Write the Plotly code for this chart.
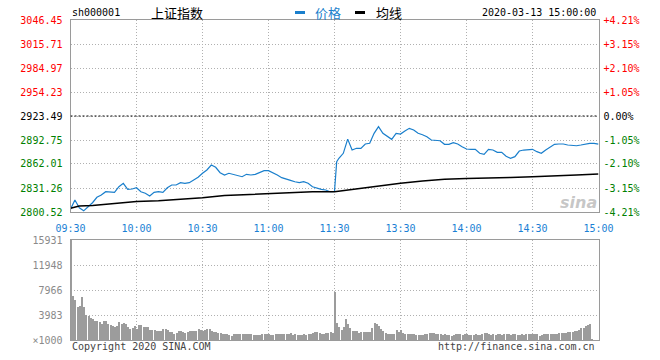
import plotly.graph_objects as go

W, H = 660, 360

# ---------------- data ----------------
symbol = "sh000001"
name = "上证指数"
stamp = "2020-03-13 15:00:00"
prev_close = 2923.49

time_labels = ["09:30", "10:00", "10:30", "11:00", "11:30", "13:30", "14:00", "14:30", "15:00"]
time_label_pos = [0, 30, 60, 90, 120, 150, 180, 210, 240]

price_ticks = [2800.52, 2831.26, 2862.01, 2892.75, 2923.49, 2954.23, 2984.97, 3015.71, 3046.45]
pct_labels = ["-4.21%", "-3.15%", "-2.10%", "-1.05%", "0.00%", "+1.05%", "+2.10%", "+3.15%", "+4.21%"]

price_minutes = list(range(0, 121, 2)) + [121] + list(range(122, 241, 2))
price_values = [
    2804.2, 2815.9, 2806.0, 2802.0, 2807.3, 2812.4, 2819.3, 2822.3, 2826.5, 2825.7,
    2825.7, 2832.9, 2837.3, 2829.6, 2830.0, 2831.6, 2826.5, 2824.5, 2821.0, 2825.7,
    2826.5, 2825.7, 2831.6, 2835.1, 2835.1, 2838.1, 2837.3, 2838.1, 2841.5, 2845.0,
    2850.1, 2854.3, 2860.7, 2857.8, 2850.9, 2847.9, 2850.1, 2848.8, 2846.6, 2845.7,
    2848.8, 2847.9, 2848.8, 2851.4, 2853.4, 2853.4, 2850.9, 2847.9, 2844.5, 2842.4,
    2841.1, 2839.3, 2838.1, 2839.3, 2837.3, 2832.9, 2830.9, 2829.6, 2828.7, 2826.5,
    2827.0,
    2864.9,
    2869.3, 2875.7, 2893.9, 2879.9, 2882.1, 2882.1, 2887.6, 2888.5, 2901.3, 2909.8,
    2901.3, 2897.9, 2893.6, 2901.3, 2900.4, 2904.3, 2907.7, 2905.5, 2901.3, 2899.5,
    2897.0, 2892.7, 2892.7, 2891.8, 2887.2, 2887.2, 2889.3, 2887.6, 2884.1, 2881.2,
    2880.8, 2880.8, 2875.7, 2874.4, 2880.8, 2879.9, 2877.0, 2877.0, 2871.9, 2869.3,
    2871.4, 2878.6, 2879.9, 2880.8, 2880.8, 2877.8, 2875.7, 2879.9, 2884.1, 2887.2,
    2887.6, 2887.6, 2886.3, 2885.4, 2885.4, 2886.3, 2887.6, 2888.5, 2888.5, 2887.4,
]

avg_minutes = [0, 4, 10, 20, 30, 40, 50, 60, 70, 80, 90, 100, 110, 120,
               130, 140, 150, 160, 170, 180, 190, 200, 210, 220, 230, 240]
avg_values = [2805.3, 2808.2, 2808.8, 2811.7, 2814.0, 2815.0, 2816.8, 2818.7, 2821.6, 2822.9,
              2824.2, 2825.5, 2826.4, 2826.5, 2830.0, 2834.2, 2837.3, 2840.2, 2842.4, 2843.4,
              2844.5, 2844.7, 2845.7, 2846.4, 2847.9, 2849.2]

vol_ticks = [0, 3983, 7966, 11948, 15931]
vol_labels = ["×1000", "3983", "7966", "11948", "15931"]
volume_minutes = list(range(241))
volumes = [
    15931,
    7009, 6372, 5204, 5416, 6850, 5204, 3983, 3823, 3452, 3345,
    3027, 3027, 2814, 2496, 3027, 3027, 2496, 2336, 2230, 2124,
    2230, 2867, 2549, 2655, 2549, 2071, 1805, 1858, 2177, 1752,
    2390, 2336, 2071, 2071, 2071, 1593, 1540, 1593, 1434, 1434, 1434,
    1699, 1699, 1540, 1274, 1274, 1009, 1062, 1434, 1434, 1328,
    1062, 1221, 1381, 1381, 1381, 1381, 1805, 1646, 1487, 1593,
    1752, 1699, 1434, 1328, 1221, 1062, 1115, 956, 903, 903,
    797, 637, 903, 956, 956, 956, 956, 956, 903, 903, 903,
    797, 797, 797, 797, 903, 903, 903, 1009, 850, 797,
    903, 956, 956, 956, 956, 956, 1009, 1115, 797, 903,
    850, 850, 850, 956, 850, 903, 1009, 1115, 1274, 1274,
    1168, 1009, 903, 1168, 1115, 1274, 1115,
    7700,
    2761, 2124, 1593, 2018, 3345, 2496, 1858, 1434, 1434, 1434,
    1168, 1274, 1328, 1328, 1328, 1328, 1965, 2655, 2496, 2177,
    1752, 1434, 1115, 1009, 1009, 1009,
    1009, 1646, 1328, 1593, 1168, 903, 1009, 956, 956, 956,
    797, 797, 797, 797, 903, 956, 1168, 1062, 1168, 1009,
    903, 903, 797, 903, 850, 850,
    690, 797, 903, 956, 1009, 797, 903, 1009, 850, 850,
    797, 903, 850, 850, 903, 1062, 1168, 956, 850, 903,
    850, 903, 956, 850, 956, 956,
    956, 850, 903, 956, 797, 743, 903, 797, 903, 903,
    956, 903, 903, 903, 690, 797, 903, 956, 956, 956, 956,
    1009, 1009, 1062, 1062, 1062, 1168, 1328, 1328, 1328, 1381,
    1434, 1593, 1858, 1965, 2177, 2336, 2549,
    106, 0, 0, 0,
]

# ---------------- styling ----------------
BLUE = "#1a7fcc"
RED = "#ff0000"
GREEN = "#008000"
FRAME = "#9a9a9a"
GRID = "#b0b0b0"
MONO = "DejaVu Sans Mono"
CJK = "Noto Sans CJK SC"


def px(x):
    return x / W


def py(y):
    return 1 - y / H


def colored(text, value):
    if abs(value - prev_close) < 0.01:
        c = "#000000"
    elif value > prev_close:
        c = RED
    else:
        c = GREEN
    return f'<span style="color:{c}">{text}</span>'


left_text = [colored(f"{v:.2f}", v) for v in price_ticks]
right_text = [colored(t, v) for t, v in zip(pct_labels, price_ticks)]

XD = [px(70.5), px(598.5)]

fig = go.Figure()
fig.add_trace(go.Bar(x=volume_minutes, y=volumes, width=0.38,
                     marker=dict(color="#9c9c9c", line=dict(width=0)),
                     xaxis="x2", yaxis="y3", hoverinfo="skip"))
fig.add_trace(go.Scatter(x=avg_minutes, y=avg_values, mode="lines",
                         line=dict(color="#000000", width=1.6),
                         xaxis="x", yaxis="y2", name="均线"))
fig.add_trace(go.Scatter(x=price_minutes, y=price_values, mode="lines",
                         line=dict(color=BLUE, width=1.2),
                         xaxis="x", yaxis="y", name="价格"))

fig.add_shape(type="line", xref="x", yref="y", x0=0, x1=240, y0=prev_close, y1=prev_close,
              line=dict(color="#000000", width=1, dash="2px,2px"), layer="above")

common_x = dict(range=[0, 240], showline=True, linecolor=FRAME, linewidth=1, mirror=True,
                showgrid=True, gridcolor=GRID, griddash="1px,2px", gridwidth=1,
                zeroline=False, ticks="", fixedrange=True, automargin=False)

fig.update_layout(
    width=W, height=H,
    margin=dict(l=0, r=0, t=0, b=0, autoexpand=False),
    paper_bgcolor="white", plot_bgcolor="white",
    showlegend=False,
    font=dict(family=MONO, size=10, color="#000"),
    xaxis=dict(domain=XD, anchor="y", tickvals=time_label_pos, ticktext=time_labels,
               tickfont=dict(family=MONO, size=10, color="#1a7fd4"), ticklabelstandoff=7,
               **common_x),
    yaxis=dict(domain=[py(212), py(20)], anchor="x", range=[price_ticks[0], price_ticks[-1]],
               tickvals=price_ticks, ticktext=left_text, showline=True, linecolor=FRAME,
               mirror=True, showgrid=True, gridcolor=GRID, griddash="1px,2px",
               zeroline=False, ticks="", ticklabelstandoff=5, automargin=False,
               tickfont=dict(family=MONO, size=10)),
    yaxis2=dict(overlaying="y", side="right", anchor="x", range=[price_ticks[0], price_ticks[-1]],
                tickvals=price_ticks, ticktext=right_text, showgrid=False, showline=False,
                zeroline=False, ticks="", ticklabelstandoff=4, automargin=False,
                tickfont=dict(family=MONO, size=10)),
    xaxis2=dict(domain=XD, anchor="y3", tickvals=time_label_pos, showticklabels=False,
                **common_x),
    yaxis3=dict(domain=[py(340), py(240)], anchor="x2", range=[0, vol_ticks[-1]],
                tickvals=vol_ticks, ticktext=vol_labels, showline=True, linecolor=FRAME,
                mirror=True, showgrid=True, gridcolor=GRID, griddash="1px,2px",
                zeroline=False, ticks="", ticklabelstandoff=5, automargin=False,
                tickfont=dict(family=MONO, size=10, color="#8a8a8a")),
    bargap=0,
)

ann = []
ann.append(dict(x=px(70), y=py(13), text=symbol, xanchor="left", yanchor="middle",
                font=dict(family=MONO, size=10, color="#000")))
ann.append(dict(x=px(177), y=py(12.5), text=name, xanchor="center", yanchor="middle",
                font=dict(family=CJK, size=13, color="#000")))
ann.append(dict(x=px(313), y=py(12.5), text="价格", xanchor="left", yanchor="middle",
                font=dict(family=CJK, size=13, color=BLUE)))
ann.append(dict(x=px(374), y=py(12.5), text="均线", xanchor="left", yanchor="middle",
                font=dict(family=CJK, size=13, color="#000")))
ann.append(dict(x=px(597.5), y=py(13), text=stamp, xanchor="right", yanchor="middle",
                font=dict(family=MONO, size=10, color="#000")))
ann.append(dict(x=px(70), y=py(346), text="Copyright 2020 SINA.COM", xanchor="left",
                yanchor="middle", font=dict(family=MONO, size=10, color="#444")))
ann.append(dict(x=px(597), y=py(346), text="http://finance.sina.com.cn", xanchor="right",
                yanchor="middle", font=dict(family=MONO, size=10, color="#444")))
ann.append(dict(x=px(578), y=py(202), text="<b><i>sina</i></b>", xanchor="center",
                yanchor="middle", font=dict(family="DejaVu Sans", size=16,
                                            color="rgba(150,150,150,0.55)")))
for a in ann:
    a.update(xref="paper", yref="paper", showarrow=False)
fig.update_layout(annotations=ann)

fig.add_shape(type="rect", xref="paper", yref="paper", x0=px(295), x1=px(305),
              y0=py(14), y1=py(11), fillcolor=BLUE, line=dict(width=0))
fig.add_shape(type="rect", xref="paper", yref="paper", x0=px(355), x1=px(365),
              y0=py(14), y1=py(11), fillcolor="#000", line=dict(width=0))

fig.write_html("out.html")
